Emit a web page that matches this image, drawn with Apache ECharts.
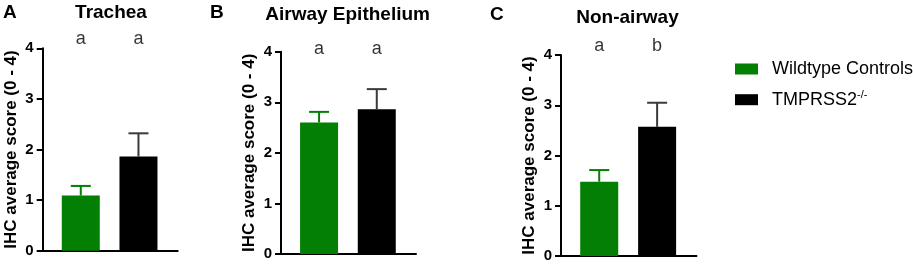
<!DOCTYPE html>
<html>
<head>
<meta charset="utf-8">
<script src="https://cdn.jsdelivr.net/npm/echarts@6/dist/echarts.min.js"></script>
<style>
  html, body { margin: 0; padding: 0; background: #fff; }
  #chart { width: 913px; height: 264px; }
</style>
</head>
<body>
<div id="chart"></div>
<script>
// data
const panelTitles = ['Trachea', 'Airway Epithelium', 'Non-airway']
const panelTags = ['A', 'B', 'C']
const groupNames = ['Wildtype Controls', 'TMPRSS2']
const wtMean = [1.09, 2.60, 1.48]
const wtErr = [0.19, 0.21, 0.23]
const koMean = [1.86, 2.86, 2.57]
const koErr = [0.46, 0.40, 0.48]
const sigLetters = [['a', 'a'], ['a', 'a'], ['a', 'b']]
const yMin = 0
const yMax = 4
const yStep = 1

// layout
const FONT = '"Liberation Sans", Arial, sans-serif'
const GREEN = '#037f03'
const BLACK = '#000'
const grids = [
  { left: 42.7, top: 48.3, width: 135, height: 202.4 },
  { left: 281, top: 51.7, width: 135, height: 202.3 },
  { left: 561, top: 55, width: 135.5, height: 201 }
]
const titlePos = [
  { x: 111, y: 3 }, { x: 347.6, y: 5 }, { x: 627.5, y: 8 }
]
const tagPos = [
  { x: 3, y: 3 }, { x: 210, y: 3 }, { x: 490, y: 5 }
]
const letterLift = [9, 2.5, 9]

let myChart = echarts.init(document.getElementById('chart'), null, { renderer: 'canvas' })

function errorBar(color) {
  return function (params, api) {
    const x = api.value(0)
    const m = api.value(1)
    const e = api.value(2)
    const base = api.coord([x, m])
    const top = api.coord([x, m + e])
    const hw = 10
    const style = { stroke: color, lineWidth: 2 }
    return {
      type: 'group',
      children: [
        { type: 'line', shape: { x1: base[0], y1: base[1], x2: top[0], y2: top[1] }, style },
        { type: 'line', shape: { x1: top[0] - hw, y1: top[1], x2: top[0] + hw, y2: top[1] }, style }
      ]
    }
  }
}

let title = []
let xAxis = []
let yAxis = []
let series = []

panelTitles.forEach((t, i) => {
  title.push({
    text: t, left: titlePos[i].x, top: titlePos[i].y, textAlign: 'center', padding: 0,
    textStyle: { fontFamily: FONT, fontSize: 19, fontWeight: 'bold', color: '#000' }
  })
  title.push({
    text: panelTags[i], left: tagPos[i].x, top: tagPos[i].y, padding: 0,
    textStyle: { fontFamily: FONT, fontSize: 19, fontWeight: 'bold', color: '#000' }
  })
  xAxis.push({
    gridIndex: i, type: 'value', min: -0.66, max: 1.68,
    axisLine: { show: true, onZero: false, lineStyle: { color: '#000', width: 2 } },
    axisTick: { show: false }, axisLabel: { show: false }, splitLine: { show: false }
  })
  yAxis.push({
    gridIndex: i, type: 'value', min: yMin, max: yMax, interval: yStep,
    name: 'IHC average score (0 - 4)', nameLocation: 'middle', nameGap: 23,
    nameTextStyle: { fontFamily: FONT, fontSize: 17, fontWeight: 'bold', color: '#000' },
    axisLine: { show: true, onZero: false, lineStyle: { color: '#000', width: 2 } },
    axisTick: { show: true, length: 6, lineStyle: { color: '#000', width: 2 } },
    axisLabel: { margin: 9, fontFamily: FONT, fontSize: 15, fontWeight: 'bold', color: '#000' },
    splitLine: { show: false }
  })
  series.push({
    name: groupNames[0], type: 'bar', xAxisIndex: i, yAxisIndex: i,
    barWidth: 38, barGap: '-100%', itemStyle: { color: GREEN },
    data: [[0, wtMean[i]]]
  })
  series.push({
    name: groupNames[1], type: 'bar', xAxisIndex: i, yAxisIndex: i,
    barWidth: 38, barGap: '-100%', itemStyle: { color: BLACK },
    data: [[1, koMean[i]]]
  })
  series.push({
    type: 'custom', xAxisIndex: i, yAxisIndex: i, z: 3,
    renderItem: errorBar(GREEN), data: [[0, wtMean[i], wtErr[i]]]
  })
  series.push({
    type: 'custom', xAxisIndex: i, yAxisIndex: i, z: 3,
    renderItem: errorBar('#3a3a3a'), data: [[1, koMean[i], koErr[i]]]
  })
  series.push({
    type: 'scatter', xAxisIndex: i, yAxisIndex: i, symbolSize: 0, silent: true,
    data: [[0, yMax], [1, yMax]],
    label: {
      show: true, position: 'inside', offset: [0, -letterLift[i]],
      formatter: (p) => sigLetters[i][p.dataIndex],
      fontFamily: FONT, fontSize: 18, color: '#000'
    }
  })
})

myChart.setOption({
  animation: false,
  title,
  grid: grids,
  xAxis,
  yAxis,
  legend: {
    data: groupNames, orient: 'vertical', left: 735, top: 60, padding: 0,
    itemWidth: 23, itemHeight: 11, itemGap: 11.7, icon: 'rect',
    formatter: (name) => name === 'TMPRSS2' ? '{b|TMPRSS2}{s|-/-}' : '{b|' + name + '}',
    textStyle: {
      fontFamily: FONT, fontSize: 18, color: '#000', padding: [0, 0, 0, 9],
      rich: {
        b: { fontFamily: FONT, fontSize: 18, color: '#000', lineHeight: 20 },
        s: { fontFamily: FONT, fontSize: 11, color: '#000', lineHeight: 20, verticalAlign: 'top', padding: [0, 0, 9, 0] }
      }
    }
  },
  series
})
</script>
</body>
</html>
